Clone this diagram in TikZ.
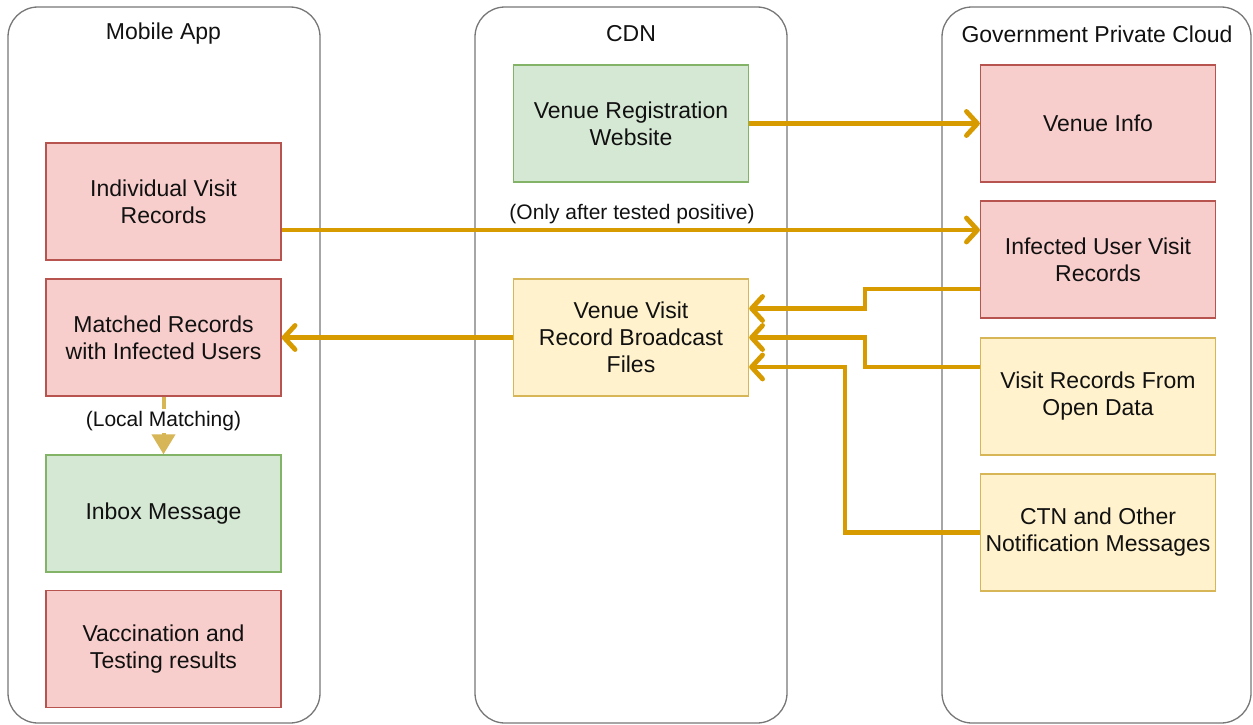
\documentclass[tikz,border=0pt]{standalone}
\usepackage{fontspec}
\setmainfont{Liberation Sans}
\usetikzlibrary{arrows.meta,calc}
\definecolor{redfill}{HTML}{F8CECC}
\definecolor{redline}{HTML}{B85450}
\definecolor{greenfill}{HTML}{D5E8D4}
\definecolor{greenline}{HTML}{82B366}
\definecolor{yellowfill}{HTML}{FFF2CC}
\definecolor{yellowline}{HTML}{D6B656}
\definecolor{flowcol}{HTML}{D79B00}
\definecolor{lanecol}{HTML}{777777}
\definecolor{txt}{HTML}{111111}
\tikzset{
  lane/.style={draw=lanecol, line width=1.3pt, rounded corners=30pt},
  lanetitle/.style={text=txt, font=\fontsize{23}{27}\selectfont},
  box/.style={minimum width=235pt, minimum height=117pt, line width=1.3pt,
    align=center, text=txt, font=\fontsize{23}{27}\selectfont, inner sep=0pt},
  redbox/.style={box, fill=redfill, draw=redline},
  greenbox/.style={box, fill=greenfill, draw=greenline},
  yellowbox/.style={box, fill=yellowfill, draw=yellowline},
  flow/.style={draw=flowcol, line width=4.8pt,
    -{Straight Barb[length=11pt,width=24pt,line width=4.8pt,round]}},
  edgelabel/.style={text=txt, font=\fontsize{21}{25}\selectfont, inner sep=2pt}
}
\begin{document}
\begin{tikzpicture}[x=1pt,y=-1pt]
\useasboundingbox (0,0) rectangle (1253,725);

% swimlanes
\draw[lane] (8,7) rectangle (320,723);
\draw[lane] (475,7) rectangle (787,723);
\draw[lane] (942,7) rectangle (1251,723);
\node[lanetitle] (tmobile) at (163.5,34) {Mobile App};
\node[lanetitle] (tcdn) at (631,34) {CDN};
\node[lanetitle] (tgov) at (1097,34) {Government Private Cloud};

% mobile app
\node[redbox] (ivr) at (163.5,201.5) {Individual Visit\\Records};
\node[redbox] (mr) at (163.5,337.5) {Matched Records\\with Infected Users};
\node[greenbox] (inbox) at (163.5,513.5) {Inbox Message};
\node[redbox] (vacc) at (163.5,649) {Vaccination and\\Testing results};

% CDN
\node[greenbox] (vrw) at (631,123.5) {Venue Registration\\Website};
\node[yellowbox] (bcast) at (631,337.5) {Venue Visit\\Record Broadcast\\Files};

% government private cloud
\node[redbox] (vinfo) at (1098,123.5) {Venue Info};
\node[redbox] (iuvr) at (1098,259.5) {Infected User Visit\\Records};
\node[yellowbox] (open) at (1098,396.5) {Visit Records From\\Open Data};
\node[yellowbox] (ctn) at (1098,532.5) {CTN and Other\\Notification Messages};

% connectors
\draw[flow] (vrw.east) -- (vinfo.west);
\draw[flow] ([yshift=-28.5pt]ivr.east) -- ([yshift=-28.5pt]ivr.east -| iuvr.west);
\node[edgelabel] (lblpos) at (632,214) {(Only after tested positive)};

\coordinate (j1) at (865,0);
\coordinate (j2) at (845,0);
\draw[flow] ([yshift=-29.5pt]iuvr.west) -| ([yshift=29pt]bcast.east -| j1) -- ([yshift=29pt]bcast.east);
\draw[flow] ([yshift=29.5pt]open.west) -| (bcast.east -| j1) -- (bcast.east);
\draw[flow] (ctn.west) -| ([yshift=-29.5pt]bcast.east -| j2) -- ([yshift=-29.5pt]bcast.east);

\draw[flow] (bcast.west) -- (mr.east);

\draw[draw=yellowline, line width=4pt,
  -{Triangle[length=20pt,width=23pt,fill=yellowline]}] (mr.south) -- (inbox.north)
  node[edgelabel, fill=white, pos=0.42] (lblmatch) {(Local Matching)};
\end{tikzpicture}
\end{document}
